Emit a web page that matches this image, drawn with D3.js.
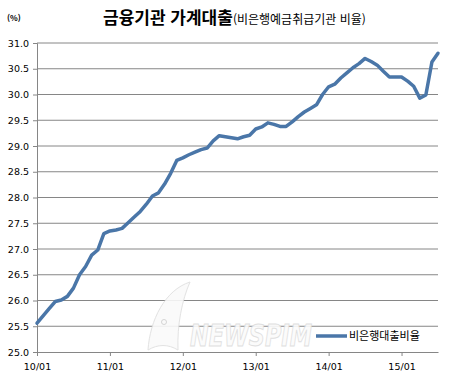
<!DOCTYPE html>
<html lang="ko">
<head>
    <meta charset="UTF-8">
    <title>금융기관 가계대출</title>
    <script src="https://d3js.org/d3.v7.min.js"></script>
    <style>
        body { margin: 0; background: #fff; }
        svg { display: block; }
        .tick text { font-family: "DejaVu Sans", sans-serif; font-size: 9.5px; fill: #000; }
    </style>
</head>
<body>
<svg id="chart"></svg>
<script>
    // monthly, 2010/01 .. 2015/07
    const months = [];
    for (let yy = 10; yy <= 15; yy++) {
        for (let mm = 1; mm <= 12; mm++) {
            if (yy === 15 && mm > 7) break;
            months.push(yy + "/" + String(mm).padStart(2, "0"));
        }
    }

    const ratio = [
        25.56, 25.70, 25.84, 25.98, 26.01, 26.08, 26.24, 26.50, 26.66, 26.88, 26.98, 27.30,
        27.35, 27.37, 27.40, 27.51, 27.62, 27.73, 27.87, 28.03, 28.09, 28.26, 28.47, 28.72,
        28.77, 28.83, 28.88, 28.93, 28.96, 29.10, 29.20, 29.18, 29.16, 29.14, 29.18, 29.21,
        29.33, 29.37, 29.45, 29.42, 29.38, 29.38, 29.47, 29.57, 29.66, 29.73, 29.80, 30.00,
        30.15, 30.20, 30.32, 30.42, 30.52, 30.60, 30.70, 30.64, 30.57, 30.45, 30.34, 30.34,
        30.34, 30.26, 30.16, 29.93, 29.99, 30.63, 30.80
    ];

    const yTicks = [25.0, 25.5, 26.0, 26.5, 27.0, 27.5, 28.0, 28.5, 29.0, 29.5, 30.0, 30.5, 31.0];
    const xTickLabels = ["10/01", "11/01", "12/01", "13/01", "14/01", "15/01"];

    const seriesName = "비은행대출비율";

    const width = 456, height = 377;
    const svg = d3.select("#chart").attr("width", width).attr("height", height);

    const x = d3.scalePoint().domain(months).range([37, 438]);
    const y = d3.scaleLinear().domain([25, 31]).range([352, 43]);

    // title
    const title = svg.append("text")
        .attr("x", 103).attr("y", 24)
        .style("font-family", "'Noto Sans CJK KR', sans-serif");
    title.append("tspan").text("금융기관 가계대출")
        .style("font-size", "17px").style("font-weight", "bold");
    title.append("tspan").text("(비은행예금취급기관 비율)")
        .style("font-size", "12px");

    svg.append("text")
        .attr("x", 7).attr("y", 21)
        .style("font-family", "'Noto Sans CJK KR', sans-serif")
        .style("font-size", "8px").style("font-weight", "bold")
        .text("(%)");

    // gridlines
    svg.append("g")
        .selectAll("line")
        .data(yTicks.slice(1))
        .join("line")
        .attr("x1", 37).attr("x2", 438)
        .attr("y1", d => y(d)).attr("y2", d => y(d))
        .attr("stroke", "#868686").attr("stroke-width", 1);

    // watermark
    const wm = svg.append("g").attr("opacity", 0.9);
    wm.append("path")
        .attr("d", "M148,350 C150,320 165,290 190,282 C182,300 177,325 178,350 C168,344 158,344 148,350 Z")
        .attr("fill", "#fafafa").attr("stroke", "#e0e0e0").attr("stroke-width", 1);
    wm.append("circle").attr("cx", 164).attr("cy", 322).attr("r", 2.5)
        .attr("fill", "none").attr("stroke", "#d0d0d0");
    wm.append("text")
        .attr("x", 190).attr("y", 346)
        .style("font-family", "'DejaVu Sans', sans-serif")
        .style("font-size", "30px").style("font-weight", "bold")
        .style("font-style", "italic")
        .attr("textLength", 122).attr("lengthAdjust", "spacingAndGlyphs")
        .attr("fill", "#fbfbfb").attr("stroke", "#dcdcdc").attr("stroke-width", 1)
        .text("NEWSPIM");

    // axes
    const yAxis = svg.append("g")
        .attr("transform", "translate(37,0)")
        .call(d3.axisLeft(y).tickValues(yTicks).tickFormat(d3.format(".1f")).tickSize(4).tickPadding(4));
    yAxis.select(".domain").attr("stroke", "#868686");
    yAxis.selectAll(".tick line").attr("stroke", "#868686");

    const xAxis = svg.append("g")
        .attr("transform", "translate(0,352)")
        .call(d3.axisBottom(x).tickValues(xTickLabels).tickSize(4).tickPadding(7).tickSizeOuter(0));
    xAxis.select(".domain").attr("stroke", "#868686");
    xAxis.selectAll(".tick line").attr("stroke", "#868686");

    // line
    const line = d3.line()
        .x((d, i) => x(months[i]))
        .y(d => y(d));

    svg.append("path")
        .datum(ratio)
        .attr("d", line)
        .attr("fill", "none")
        .attr("stroke", "#4a76a8")
        .attr("stroke-width", 3.5)
        .attr("stroke-linejoin", "round")
        .attr("stroke-linecap", "round");

    // legend
    svg.append("line")
        .attr("x1", 316).attr("x2", 347)
        .attr("y1", 336).attr("y2", 336)
        .attr("stroke", "#4a76a8").attr("stroke-width", 3.5);
    svg.append("text")
        .attr("x", 349).attr("y", 340)
        .style("font-family", "'Noto Sans CJK KR', sans-serif")
        .style("font-size", "11px")
        .text(seriesName);
</script>
</body>
</html>
